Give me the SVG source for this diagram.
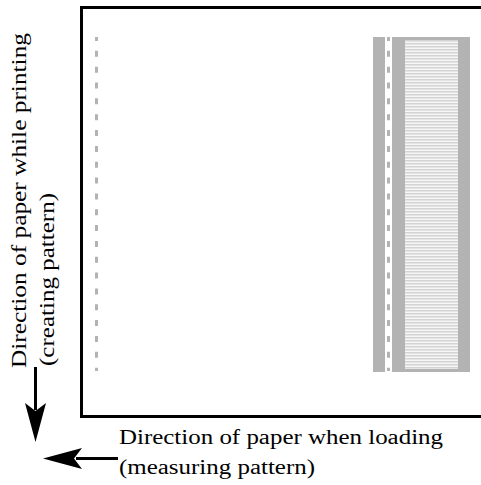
<svg xmlns="http://www.w3.org/2000/svg" width="481" height="485" viewBox="0 0 481 485">
<style>
text{font-family:'Liberation Serif','Times New Roman',serif;font-size:20px;fill:#000}
.dash{stroke:#b3b3b3;stroke-width:3;stroke-dasharray:6 9.84;stroke-dashoffset:2;fill:none}
.grey{fill:#b3b3b3}
</style>
<defs>
<pattern id="stripes" x="0" y="40" width="4" height="3" patternUnits="userSpaceOnUse">
<rect width="4" height="3" fill="#f6f6f6"/>
<rect y="0" width="4" height="1" fill="#d4d4d4"/>
<rect y="1" width="4" height="1" fill="#e4e4e4"/>
</pattern>
</defs>
<rect width="481" height="485" fill="#fff"/>
<g id="frame">
<path d="M484 7.5 H81.5 V416.5 H484" fill="none" stroke="#000" stroke-width="3"/>
</g>
<g id="left-line">
<line class="dash" x1="96.5" y1="37" x2="96.5" y2="371"/>
</g>
<g id="pattern-block">
<rect class="grey" x="373" y="37" width="12" height="335"/>
<rect class="grey" x="392" y="37" width="78" height="335"/>
<rect x="405" y="40" width="53" height="329" fill="url(#stripes)"/>
<line class="dash" x1="388.5" y1="37" x2="388.5" y2="371"/>
</g>
<g id="connectors">
<line x1="35.5" y1="367" x2="35.5" y2="410" stroke="#000" stroke-width="3"/>
<polygon points="25,403 35.5,442 46,403 35.5,411" fill="#000"/>
<line x1="118" y1="458.5" x2="76" y2="458.5" stroke="#000" stroke-width="3"/>
<polygon points="82,448 43,458.5 82,469 74,458.5" fill="#000"/>
</g>
<g id="label-printing">
<text transform="translate(26,368) rotate(-90)" textLength="335" lengthAdjust="spacingAndGlyphs">Direction of paper while printing</text>
<text transform="translate(54,366) rotate(-90)" textLength="173" lengthAdjust="spacingAndGlyphs">(creating pattern)</text>
</g>
<g id="label-loading">
<text x="119" y="444" textLength="324" lengthAdjust="spacingAndGlyphs">Direction of paper when loading</text>
<text x="119" y="474" textLength="196" lengthAdjust="spacingAndGlyphs">(measuring pattern)</text>
</g>
</svg>
